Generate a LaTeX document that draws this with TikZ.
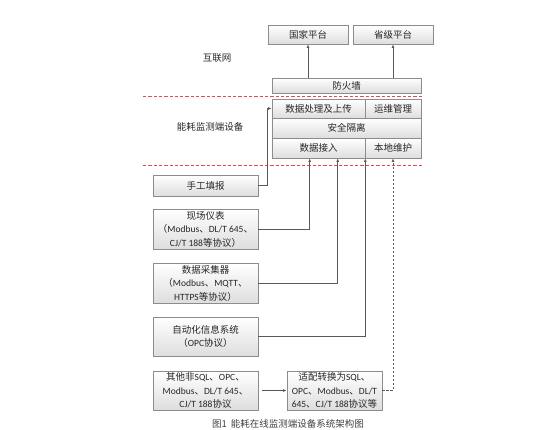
\documentclass[tikz,border=0pt]{standalone}
\usepackage{fontspec}
\setmainfont{Carlito}
\newfontfamily\zhfont{Noto Sans CJK SC}
\usetikzlibrary{arrows.meta,shadows,calc}
\newcommand\zh[1]{{\zhfont #1}}
\definecolor{sepred}{HTML}{E84A4A}
\begin{document}
\begin{tikzpicture}[x=1pt,y=-1pt,
 box/.style={draw=black!45, line width=0.6pt, top color=white, bottom color=black!13,
   drop shadow={shadow xshift=1pt,shadow yshift=-1pt,opacity=.25},
   font=\fontsize{9.5}{13.5}\selectfont, text=black!85, align=center, inner sep=0pt},
 lbl/.style={font=\zhfont\fontsize{9.5}{12}\selectfont, text=black!85},
 conn/.style={draw=black!65, line width=0.7pt, -{Latex[length=3.5pt,width=2.8pt]}},
 dconn/.style={conn, dash pattern=on 2.5pt off 1.5pt},
 sep/.style={draw=sepred, line width=0.8pt, dash pattern=on 3.3pt off 2pt}
]
\useasboundingbox (0,0) rectangle (560,429);

% region labels
\node[lbl] (net) at (217,58) {互联网};
\node[lbl] (dev) at (210,127) {能耗监测端设备};

% top platforms
\node[box, minimum width=80, minimum height=19] (gj) at (308,34.5) {\zh{国家平台}};
\node[box, minimum width=80, minimum height=19] (sj2) at (393,34.5) {\zh{省级平台}};
\node[box, minimum width=149, minimum height=15] (fw) at (346.5,85.5) {\zh{防火墙}};

% device block
\node[box, minimum width=93, minimum height=19] (sc) at (318.5,108.5) {\zh{数据处理及上传}};
\node[box, minimum width=56, minimum height=19] (yw) at (393,108.5) {\zh{运维管理}};
\node[box, minimum width=149, minimum height=20] (aq) at (346.5,128) {\zh{安全隔离}};
\node[box, minimum width=93, minimum height=20] (jr) at (318.5,148) {\zh{数据接入}};
\node[box, minimum width=56, minimum height=20] (bd) at (393,148) {\zh{本地维护}};

% sources
\node[box, minimum width=105, minimum height=21] (sg) at (205.5,185.5) {\zh{手工填报}};
\node[box, minimum width=105, minimum height=40] (xc) at (205.5,229)
  {\zh{现场仪表}\\\zh{（}Modbus\zh{、}DL/T 645\zh{、}\\CJ/T 188\zh{等协议）}};
\node[box, minimum width=105, minimum height=40] (cj) at (205.5,283)
  {\zh{数据采集器}\\\zh{（}Modbus\zh{、}MQTT\zh{、}\\HTTPS\zh{等协议）}};
\node[box, minimum width=105, minimum height=39] (zd) at (205.5,336.5)
  {\zh{自动化信息系统}\\\zh{（}OPC\zh{协议）}};
\node[box, minimum width=105, minimum height=39] (qt) at (205.5,390.5)
  {\zh{其他非}SQL\zh{、}OPC\zh{、}\\Modbus\zh{、}DL/T 645\zh{、}\\CJ/T 188\zh{协议}};
\node[box, minimum width=95, minimum height=39] (sp) at (334.5,390.5)
  {\zh{适配转换为}SQL\zh{、}\\OPC\zh{、}Modbus\zh{、}DL/T\\645\zh{、}CJ/T 188\zh{协议等}};

% caption
\node[font=\zhfont\fontsize{9.5}{11}\selectfont, text=black!75] (cap) at (288,424)
  {图1\hspace{4pt}能耗在线监测端设备系统架构图};

% separators
\coordinate (s1a) at (143,96);  \coordinate (s1b) at (423,96);
\coordinate (s2a) at (143,165); \coordinate (s2b) at (423,165);
\draw[sep] (s1a) -- (s1b);
\draw[sep] (s2a) -- (s2b);

% connectors
\draw[conn] (fw.north -| gj.south) -- (gj.south);
\draw[conn] (fw.north -| sj2.south) -- (sj2.south);
\draw[conn] (sg.east) -- ++(9,0) |- (sc.west);
\draw[conn] (xc.east) -| ([xshift=38pt]jr.south west);
\draw[conn] (cj.east) -| ([xshift=66pt]jr.south west);
\draw[conn] (zd.east) -| (jr.south east);
\draw[conn] ([xshift=4pt]qt.east) -- (sp.west);
\draw[dconn] (sp.east) -| (bd.south);
\end{tikzpicture}
\end{document}
